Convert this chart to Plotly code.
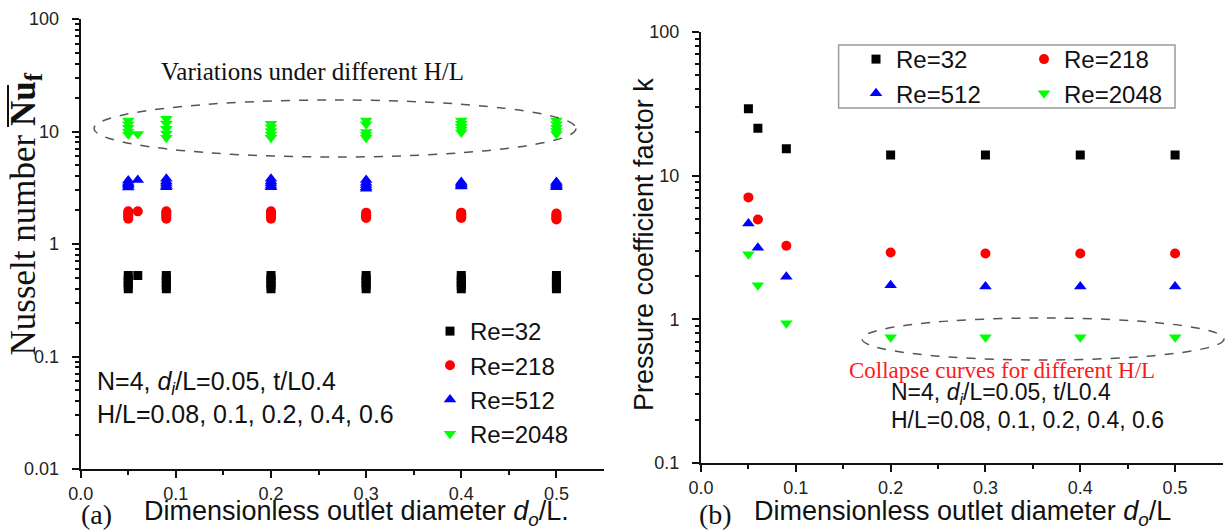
import plotly.graph_objects as go

W, H = 1225, 530

# ---------------- data ----------------
# (a) Nusselt number: five H/L cases per outlet diameter (0.06 has a single case)
hl_cases = [0.08, 0.1, 0.2, 0.4, 0.6]
do_left = [0.05, 0.06, 0.09, 0.2, 0.3, 0.4, 0.5]

nu_re32 = [
    [0.525, 0.49, 0.46, 0.43, 0.40],
    [0.525],
    [0.525, 0.49, 0.46, 0.43, 0.40],
    [0.525, 0.49, 0.46, 0.43, 0.40],
    [0.525, 0.49, 0.46, 0.43, 0.40],
    [0.525, 0.49, 0.46, 0.43, 0.40],
    [0.525, 0.49, 0.46, 0.43, 0.40],
]
nu_re218 = [
    [1.95, 1.88, 1.80, 1.74, 1.68],
    [1.95],
    [1.95, 1.88, 1.80, 1.74, 1.68],
    [1.95, 1.88, 1.80, 1.74, 1.68],
    [1.90, 1.84, 1.78, 1.74, 1.70],
    [1.90, 1.84, 1.78, 1.74, 1.70],
    [1.87, 1.80, 1.74, 1.69, 1.65],
]
nu_re512 = [
    [3.67, 3.50, 3.40, 3.30, 3.18],
    [3.70],
    [3.80, 3.60, 3.45, 3.30, 3.20],
    [3.80, 3.60, 3.45, 3.30, 3.20],
    [3.70, 3.50, 3.35, 3.20, 3.10],
    [3.55, 3.45, 3.38, 3.30, 3.25],
    [3.55, 3.45, 3.35, 3.28, 3.20],
]
nu_re2048 = [
    [12.5, 11.6, 10.8, 10.0, 9.4],
    [9.5],
    [13.0, 11.8, 10.6, 9.6, 8.8],
    [11.7, 10.9, 10.1, 9.4, 8.8],
    [12.5, 11.6, 9.9, 9.3, 8.8],
    [12.5, 11.7, 11.0, 10.4, 9.8],
    [12.5, 11.6, 10.8, 10.1, 9.5],
]

# (b) pressure coefficient factor k (H/L cases collapse onto one value)
do_right = [0.05, 0.06, 0.09, 0.2, 0.3, 0.4, 0.5]
k_re32 = [29.2, 21.4, 15.4, 13.9, 13.9, 13.9, 13.9]
k_re218 = [7.06, 4.96, 3.25, 2.92, 2.87, 2.87, 2.87]
k_re512 = [4.65, 3.15, 1.98, 1.73, 1.69, 1.69, 1.69]
k_re2048 = [2.84, 1.73, 0.94, 0.75, 0.75, 0.75, 0.75]

re_labels = ["Re=32", "Re=218", "Re=512", "Re=2048"]
re_colors = ["#000000", "#ff0000", "#0000ff", "#00ff00"]
re_symbols = ["square", "circle", "triangle-up", "triangle-down"]
re_sizes = [9, 10, 11, 11]

x_ticks = [0.0, 0.1, 0.2, 0.3, 0.4, 0.5]
y_ticks_left = [0.01, 0.1, 1, 10, 100]
y_ticks_right = [0.1, 1, 10, 100]


def px(x):
    return x / W


def py(y):
    return 1 - y / H


def flatten(xs, groups):
    fx, fy = [], []
    for x, vals in zip(xs, groups):
        for v in vals:
            fx.append(x)
            fy.append(v)
    return fx, fy


fig = go.Figure()

left_series = [nu_re32, nu_re218, nu_re512, nu_re2048]
for lab, col, sym, sz, grp in zip(re_labels, re_colors, re_symbols, re_sizes, left_series):
    fx, fy = flatten(do_left, grp)
    fig.add_trace(go.Scatter(
        x=fx, y=fy, mode="markers", name=lab,
        marker=dict(symbol=sym, color=col, size=sz, line=dict(width=0)),
        xaxis="x", yaxis="y", legend="legend",
    ))

# panel (b) legend is laid out in two columns: (32, 512) and (218, 2048)
right_series = [k_re32, k_re218, k_re512, k_re2048]
right_legends = ["legend2", "legend3", "legend2", "legend3"]
for lab, col, sym, sz, vals, lg in zip(re_labels, re_colors, re_symbols, re_sizes,
                                       right_series, right_legends):
    fig.add_trace(go.Scatter(
        x=do_right, y=vals, mode="markers", name=lab,
        marker=dict(symbol=sym, color=col, size=sz, line=dict(width=0)),
        xaxis="x2", yaxis="y2", legend=lg,
    ))

tick_font = dict(family="Liberation Sans, Arial", size=18, color="#222222")
line_kw = dict(showline=True, linecolor="#111111", linewidth=2, showgrid=False,
               zeroline=False, automargin=False)

left_dom_x = [px(80.7), px(604)]
left_dom_y = [py(469), py(19)]
right_dom_x = [px(701), px(1222.5)]
right_dom_y = [py(463), py(32)]


def bottom_axis(domain, anchor):
    return dict(domain=domain, anchor=anchor, range=[0, 0.55],
                tickvals=x_ticks, ticktext=[f"{t:.1f}" for t in x_ticks],
                ticks="outside", ticklen=7, tickwidth=2, tickcolor="#111111",
                minor=dict(tickvals=[0.05, 0.15, 0.25, 0.35, 0.45], ticks="outside",
                           ticklen=4, tickwidth=1.5, tickcolor="#111111"),
                tickfont=tick_font, ticklabelstandoff=0, **line_kw)


def left_axis(domain, anchor, lo, hi, tv):
    return dict(domain=domain, anchor=anchor, type="log", range=[lo, hi],
                tickvals=tv, ticktext=[("%g" % t) for t in tv],
                ticks="outside", ticklen=7, tickwidth=2, tickcolor="#111111",
                minor=dict(dtick="D1", ticks="outside", ticklen=4, tickwidth=1.5,
                           tickcolor="#111111"),
                tickfont=tick_font, ticklabelstandoff=9, **line_kw)


def top_axis(over, anchor):
    return dict(overlaying=over, anchor=anchor, side="top", range=[0, 1],
                dtick=0.2, ticks="inside", ticklen=8, tickwidth=2, tickcolor="#111111",
                minor=dict(dtick=0.1, ticks="inside", ticklen=4, tickwidth=1.5,
                           tickcolor="#111111"),
                showticklabels=False, **line_kw)


def right_axis(over, anchor):
    return dict(overlaying=over, anchor=anchor, side="right", range=[0, 1],
                dtick=0.2, ticks="inside", ticklen=8, tickwidth=2, tickcolor="#111111",
                minor=dict(dtick=0.1, ticks="inside", ticklen=4, tickwidth=1.5,
                           tickcolor="#111111"),
                showticklabels=False, **line_kw)


sans = "Liberation Sans, Arial"
serif = "Liberation Serif, Times New Roman"

annotations = [
    # panel (a)
    dict(text="Variations under different H/L", x=px(312), y=py(72),
         xanchor="center", font=dict(family=serif, size=25, color="#111111")),
    dict(text="N=4, <i>d<sub>i</sub></i>/L=0.05, t/L0.4", x=px(95), y=py(383),
         xanchor="left", font=dict(family=sans, size=25, color="#111111")),
    dict(text="H/L=0.08, 0.1, 0.2, 0.4, 0.6", x=px(95), y=py(414),
         xanchor="left", font=dict(family=sans, size=25, color="#111111")),
    dict(text="(a)", x=px(79), y=py(514), xanchor="left",
         font=dict(family=serif, size=28, color="#111111")),
    dict(text="Dimensionless outlet diameter <i>d<sub>o</sub></i>/L.", x=px(141.7),
         y=py(513), xanchor="left", font=dict(family=sans, size=27, color="#111111")),
    # panel (b)
    dict(text="Collapse curves for different H/L", x=px(847), y=py(370),
         xanchor="left", font=dict(family=serif, size=23, color="#ff1a1a")),
    dict(text="N=4, <i>d<sub>i</sub></i>/L=0.05, t/L0.4", x=px(889), y=py(393),
         xanchor="left", font=dict(family=sans, size=23, color="#111111")),
    dict(text="H/L=0.08, 0.1, 0.2, 0.4, 0.6", x=px(889), y=py(420),
         xanchor="left", font=dict(family=sans, size=23, color="#111111")),
    dict(text="(b)", x=px(697), y=py(514), xanchor="left",
         font=dict(family=serif, size=28, color="#111111")),
    dict(text="Dimensionless outlet diameter <i>d<sub>o</sub></i>/L", x=px(751.7),
         y=py(513), xanchor="left", font=dict(family=sans, size=27, color="#111111")),
    dict(text="Pressure coefficient factor k", x=px(644), y=py(245), textangle=-90,
         xanchor="center", font=dict(family=sans, size=27, color="#111111")),
]
for a in annotations:
    a.update(xref="paper", yref="paper", showarrow=False, yanchor="middle")

# rotated y title of panel (a), anchored at its lower end
annotations.append(dict(
    text="Nusselt number <b>Nu<sub>f</sub></b>", x=px(25), y=py(358),
    xref="paper", yref="paper", showarrow=False, xanchor="center", yanchor="bottom",
    textangle=-90, font=dict(family=serif, size=35, color="#111111")))

shapes = [
    dict(type="circle", xref="paper", yref="paper", x0=px(94), x1=px(576),
         y0=py(157), y1=py(100), line=dict(color="#555555", width=1.5, dash="dash")),
    dict(type="circle", xref="paper", yref="paper", x0=px(862), x1=px(1224),
         y0=py(360), y1=py(318), line=dict(color="#555555", width=1.5, dash="dash")),
    # frame around the two-column legend of panel (b)
    dict(type="rect", xref="paper", yref="paper", x0=px(838.6), x1=px(1175),
         y0=py(108), y1=py(45), line=dict(color="#9a9a9a", width=1.5),
         fillcolor="white", layer="below"),
    # overline over "Nu" in the rotated axis title
    dict(type="line", xref="paper", yref="paper", x0=px(8), x1=px(8),
         y0=py(127), y1=py(85), line=dict(color="#111111", width=2)),
]

legend_common = dict(xanchor="left", yanchor="top", bgcolor="rgba(0,0,0,0)",
                     borderwidth=0, tracegroupgap=0, itemwidth=30)

fig.update_layout(
    width=W, height=H,
    margin=dict(l=0, r=0, t=0, b=0, autoexpand=False),
    paper_bgcolor="white", plot_bgcolor="white",
    font=dict(family=sans, color="#111111"),
    xaxis=bottom_axis(left_dom_x, "y"),
    yaxis=left_axis(left_dom_y, "x", -2, 2, y_ticks_left),
    xaxis3=top_axis("x", "y"),
    yaxis3=right_axis("y", "x"),
    xaxis2=bottom_axis(right_dom_x, "y2"),
    yaxis2=left_axis(right_dom_y, "x2", -1, 2, y_ticks_right),
    xaxis4=top_axis("x2", "y2"),
    yaxis4=right_axis("y2", "x2"),
    legend=dict(x=px(430), y=py(309), font=dict(family=sans, size=24, color="#111111"),
                **legend_common),
    legend2=dict(x=px(856), y=py(37), font=dict(family=sans, size=24, color="#111111"),
                 **legend_common),
    legend3=dict(x=px(1024), y=py(37), font=dict(family=sans, size=24, color="#111111"),
                 **legend_common),
    annotations=annotations,
    shapes=shapes,
    showlegend=True,
)

fig.write_html("out.html")
